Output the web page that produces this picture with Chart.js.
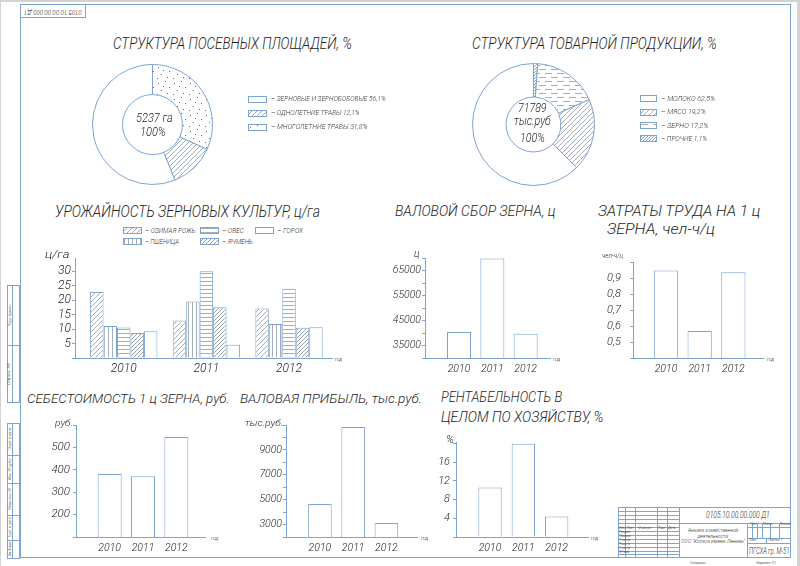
<!DOCTYPE html>
<html lang="ru">
<head>
<meta charset="utf-8">
<title>Анализ хозяйственной деятельности ООО «Колхоз имени Ленина»</title>
<script src="https://cdn.jsdelivr.net/npm/chart.js"></script>
<style>
  html, body { margin: 0; padding: 0; background: #fff; }
  #sheet {
    position: relative; width: 800px; height: 566px; overflow: hidden; background: #fff;
    font-family: Roboto, "Liberation Sans", sans-serif; font-weight: 300;
    font-style: italic; color: #1e1e1e;
  }
  .txt { position: absolute; white-space: nowrap; line-height: 1; transform-origin: 0 50%; }
  .rot { position: absolute; white-space: nowrap; line-height: 1; transform-origin: 50% 50%; }
  .ln { position: absolute; background: #7ea5d2; }
  .bx { position: absolute; box-sizing: border-box; border: 1px solid #7ea5d2; }
</style>
</head>
<body>
<div id="sheet"></div>
<script>
// ---- data read from the sheet ----
const years = [2010, 2011, 2012];

const cropNames = ['ЗЕРНОВЫЕ И ЗЕРНОБОБОВЫЕ', 'ОДНОЛЕТНИЕ ТРАВЫ', 'МНОГОЛЕТНИЕ ТРАВЫ'];
const cropShares = [56.1, 12.1, 31.8];
const cropArea = 5237;

const productNames = ['МОЛОКО', 'МЯСО', 'ЗЕРНО', 'ПРОЧИЕ'];
const productShares = [62.5, 19.2, 17.2, 1.1];
const productTotal = 71789;

const grainNames = ['ОЗИМАЯ РОЖЬ', 'ПШЕНИЦА', 'ОВЕС', 'ЯЧМЕНЬ', 'ГОРОХ'];
const yieldRye = [22.8, 12.9, 17.1];
const yieldWheat = [11.0, 19.5, 11.7];
const yieldOats = [10.5, 29.9, 23.9];
const yieldBarley = [8.6, 17.5, 10.4];
const yieldPeas = [9.2, 4.6, 10.6];
const yieldTicks = [5, 10, 15, 20, 25, 30];

const grossHarvest = [40400, 69800, 39700];
const harvestTicks = [35000, 45000, 55000, 65000];

const laborCost = [0.95, 0.57, 0.94];
const laborTicks = [0.5, 0.6, 0.7, 0.8, 0.9];

const unitCost = [381, 371, 546];
const costTicks = [200, 300, 400, 500];

const grossProfit = [4650, 10830, 3130];
const profitTicks = [3000, 5000, 7000, 9000];

const profitability = [10.6, 19.9, 4.4];
const profitabilityTicks = [4, 8, 12, 16];

// ---- drawing helpers ----
const BLUE = '#7ea5d2';
const HATCH = '#8d98a8';
const INK = '#1e1e1e';
const FONT = 'Roboto, "Liberation Sans", sans-serif';
const sheet = document.getElementById('sheet');
const comma = (v, d) => v.toFixed(d).replace('.', ',');

function txt(str, x, y, size, o = {}) {
  const el = document.createElement('div');
  el.className = 'txt';
  el.textContent = str;
  el.style.fontSize = size + 'px';
  el.style.top = (y - size / 2) + 'px';
  if (o.color) el.style.color = o.color;
  sheet.appendChild(el);
  const natural = el.offsetWidth;
  const sx = o.w ? o.w / natural : (o.sx || 1);
  let left = x;
  if (o.align === 'center') left = x - natural * sx / 2;
  el.style.left = left + 'px';
  el.style.transform = 'scaleX(' + sx + ')';
  return el;
}

function rtxt(str, cx, cy, size, len, angle) {
  const el = document.createElement('div');
  el.className = 'rot';
  el.textContent = str;
  el.style.fontSize = size + 'px';
  sheet.appendChild(el);
  const natural = el.offsetWidth;
  el.style.left = (cx - natural / 2) + 'px';
  el.style.top = (cy - size / 2) + 'px';
  el.style.transform = 'rotate(' + angle + 'deg) scaleX(' + (len / natural) + ')';
}

function hl(x1, x2, y) {
  const d = document.createElement('div');
  d.className = 'ln';
  d.style.cssText = `left:${x1}px;top:${y}px;width:${x2 - x1}px;height:1px`;
  sheet.appendChild(d);
}
function vl(x, y1, y2) {
  const d = document.createElement('div');
  d.className = 'ln';
  d.style.cssText = `left:${x}px;top:${y1}px;width:1px;height:${y2 - y1}px`;
  sheet.appendChild(d);
}
function bx(x, y, w, h) {
  const d = document.createElement('div');
  d.className = 'bx';
  d.style.cssText = `left:${x}px;top:${y}px;width:${w}px;height:${h}px`;
  sheet.appendChild(d);
}

// hatch tiles used by the slices, bars and legend keys
function tile(kind, step, color) {
  const c = document.createElement('canvas');
  const w = kind === 'dash' ? 12 : kind === 'dots' ? 16 : step;
  const h = kind === 'dash' ? 8 : kind === 'dots' ? 16 : step;
  c.width = w;
  c.height = h;
  const g = c.getContext('2d');
  g.fillStyle = '#fff';
  g.fillRect(0, 0, w, h);
  g.strokeStyle = color;
  g.fillStyle = color;
  g.lineWidth = 0.8;
  g.beginPath();
  if (kind === 'slash') {
    g.moveTo(0, h); g.lineTo(w, 0);
    g.moveTo(-1, 1); g.lineTo(1, -1);
    g.moveTo(w - 1, h + 1); g.lineTo(w + 1, h - 1);
  }
  if (kind === 'vert') { g.moveTo(1.5, 0); g.lineTo(1.5, h); }
  if (kind === 'horiz') { g.moveTo(0, 1.5); g.lineTo(w, 1.5); }
  if (kind === 'dash') {
    g.moveTo(1, 2.5); g.lineTo(8, 2.5);
    g.moveTo(7, 6.5); g.lineTo(12, 6.5);
    g.moveTo(0, 6.5); g.lineTo(2, 6.5);
  }
  g.stroke();
  if (kind === 'dots') {
    [[2, 3], [9, 1], [13, 7], [5, 10], [11, 13], [1, 14], [7, 6]].forEach(([x, y]) => g.fillRect(x, y, 1, 1));
  }
  return c;
}
const scratch = document.createElement('canvas').getContext('2d');
const pattern = t => t ? scratch.createPattern(t, 'repeat') : '#fff';

function swatch(x, cy, w, h, t) {
  const c = document.createElement('canvas');
  c.width = w;
  c.height = h;
  c.style.cssText = `position:absolute;left:${x}px;top:${Math.round(cy - h / 2)}px`;
  const g = c.getContext('2d');
  g.fillStyle = pattern(t);
  g.fillRect(0, 0, w, h);
  g.strokeStyle = BLUE;
  g.lineWidth = 1;
  g.strokeRect(0.5, 0.5, w - 1, h - 1);
  sheet.appendChild(c);
}

Chart.defaults.font.family = FONT;
Chart.defaults.font.style = 'italic';
Chart.defaults.font.weight = '300';
Chart.defaults.color = INK;

function ring(cx, cy, r, cutout, values, fills) {
  const size = 2 * r + 1;
  const c = document.createElement('canvas');
  c.width = size;
  c.height = size;
  c.style.cssText = `position:absolute;left:${Math.round(cx - size / 2)}px;top:${Math.round(cy - size / 2)}px`;
  sheet.appendChild(c);
  return new Chart(c, {
    type: 'doughnut',
    data: {
      datasets: [{ data: values, backgroundColor: fills, borderColor: BLUE, borderWidth: 1 }]
    },
    options: {
      responsive: false, animation: false, events: [], cutout,
      layout: { padding: 0 },
      plugins: { legend: { display: false }, tooltip: { enabled: false } }
    }
  });
}

function yearChart(box, xr, datasets, yr) {
  const padTop = 10, padRight = 6, yw = 40, xh = 20;
  const c = document.createElement('canvas');
  c.width = box.right - box.x + yw + padRight;
  c.height = box.bottom - box.top + padTop + xh;
  c.style.cssText = `position:absolute;left:${box.x - yw}px;top:${box.top - padTop}px`;
  sheet.appendChild(c);
  return new Chart(c, {
    type: 'bar',
    data: { datasets },
    options: {
      responsive: false, animation: false, events: [],
      layout: { padding: { top: padTop, right: padRight, bottom: 0, left: 0 } },
      plugins: { legend: { display: false }, tooltip: { enabled: false } },
      scales: {
        x: {
          type: 'linear', min: xr.min, max: xr.max, offset: false,
          grid: { display: false, drawTicks: false },
          border: { color: BLUE, width: 1 },
          afterFit: s => { s.height = xh; },
          ticks: {
            stepSize: 1, includeBounds: false, autoSkip: false, maxRotation: 0,
            padding: xr.pad, font: { size: xr.font },
            callback: v => years.includes(v) ? String(v) : ''
          }
        },
        y: {
          min: yr.min, max: yr.max,
          grid: { drawOnChartArea: false, drawTicks: true, tickLength: 3, color: BLUE, lineWidth: 1 },
          border: { color: BLUE, width: 1 },
          afterFit: s => { s.width = yw; },
          ticks: {
            stepSize: yr.step, includeBounds: false, autoSkip: false,
            padding: yr.pad, font: { size: yr.font },
            callback: v => {
              const t = yr.labels.find(l => Math.abs(l - v) < 1e-6);
              return t === undefined ? '' : (yr.fmt ? yr.fmt(t) : String(t));
            }
          }
        }
      }
    }
  });
}

function plainBars(values, pct) {
  return [{
    data: years.map((y, i) => ({ x: y, y: values[i] })),
    backgroundColor: '#fff', borderColor: BLUE, borderWidth: 1,
    categoryPercentage: pct, barPercentage: 1
  }];
}

// ---- sheet frame, stamps ----
const edge = document.createElement('div');
edge.style.cssText = 'position:absolute;left:0;top:0;width:796px;height:566px;border-top:2px solid #d3d3d3;border-left:1px solid #d3d3d3;border-right:3px solid #d3d3d3;box-sizing:content-box';
sheet.appendChild(edge);
bx(20, 4, 771, 554);
bx(20, 4, 66, 14);
rtxt('0105.10.00.00.000 Д1', 53, 11, 7, 58, 180);

// left margin strip
[[285, 345, 'Перв. примен.'], [345, 402, 'Справ. №'],
 [423, 455, 'Подп. и дата'], [455, 483, 'Инв. № дубл.'], [483, 515, 'Взам. инв. №'],
 [515, 540, 'Подп. и дата'], [540, 558, 'Инв. № подл.']].forEach(([y1, y2, s]) => {
  bx(7, y1, 13, y2 - y1 + 1);
  vl(12, y1, y2);
  rtxt(s, 9.5, (y1 + y2) / 2, 4, Math.min(22, y2 - y1 - 4), -90);
});

// title block
bx(618, 507, 173, 51);
vl(679, 507, 558);
hl(679, 791, 523);
[625, 635, 657, 667].forEach(x => vl(x, 507, 558));
[511, 515, 519, 523, 527, 531, 535, 539, 543, 547, 551, 554].forEach(y => hl(618, 679, y));
txt('Изм. Лист', 619, 529, 3.5, { w: 15 });
txt('№ докум.', 638, 529, 3.5, { w: 14 });
txt('Подп.', 658, 529, 3.5, { w: 8 });
txt('Дата', 668, 529, 3.5, { w: 8 });
['Разраб.', 'Провер.', 'Т.контр.', 'Реценз.', 'Н.контр.', 'Утв.'].forEach((s, i) => {
  txt(s, 619, 533 + i * 4, 3.2, { w: 12 });
});
txt('0105.10.00.00.000 Д1', 706, 515.5, 9, { w: 64 });
txt('Анализ хозяйственной', 713, 530.5, 5, { w: 50, align: 'center' });
txt('деятельности', 713, 536, 5, { w: 31, align: 'center' });
txt('ООО "Колхоз имени Ленина"', 713, 541.5, 5, { w: 64, align: 'center' });
vl(747, 523, 558);
hl(747, 791, 527);
hl(747, 791, 538);
hl(747, 791, 543);
[752, 757, 762, 770, 779].forEach(x => vl(x, 523, 538));
vl(766, 538, 543);
txt('Лит.', 750, 525, 3.5, { w: 8 });
txt('Масса', 763, 525, 3.5, { w: 9 });
txt('Масштаб', 780, 525, 3.5, { w: 10 });
txt('Лист', 749, 540.5, 3.5, { w: 8 });
txt('Листов 1', 768, 540.5, 3.5, { w: 14 });
txt('ПГСХА гр. М-51', 749, 551, 8.5, { w: 40 });
txt('Копировал', 690, 562.5, 4, { w: 16 });
txt('Формат  А1', 756, 562.5, 4, { w: 20 });

// ---- titles ----
txt('СТРУКТУРА ПОСЕВНЫХ ПЛОЩАДЕЙ, %', 113, 43.5, 17, { w: 239 });
txt('СТРУКТУРА ТОВАРНОЙ ПРОДУКЦИИ, %', 472, 43.5, 17, { w: 245 });
txt('УРОЖАЙНОСТЬ ЗЕРНОВЫХ КУЛЬТУР, ц/га', 55, 212, 16.5, { w: 265 });
txt('ВАЛОВОЙ СБОР ЗЕРНА, ц', 395, 212, 14.5, { w: 160 });
txt('ЗАТРАТЫ ТРУДА НА 1 ц', 598, 212, 14.5, { w: 162 });
txt('ЗЕРНА, чел-ч/ц', 607, 230, 14.5, { w: 108 });
txt('СЕБЕСТОИМОСТЬ 1 ц ЗЕРНА, руб.', 27, 398, 13, { w: 203 });
txt('ВАЛОВАЯ ПРИБЫЛЬ, тыс.руб.', 240, 398, 13, { w: 182 });
txt('РЕНТАБЕЛЬНОСТЬ В', 441, 398, 14.5, { w: 121 });
txt('ЦЕЛОМ ПО ХОЗЯЙСТВУ, %', 441, 418, 14.5, { w: 162 });

// ---- sown area structure ----
const cropTiles = [null, tile('slash', 5, HATCH), tile('dots', 0, '#6d6d6d')];
ring(152, 124, 60, '50%', cropShares.slice().reverse(), cropTiles.slice().reverse().map(pattern));
txt(cropArea + ' га', 154, 117, 13, { align: 'center', sx: 0.85 });
txt('100%', 153, 131.5, 13, { align: 'center', sx: 0.85 });
const cropLegendW = [115, 89, 96];
cropNames.forEach((name, i) => {
  const cy = 99 + i * 14;
  swatch(248, cy, 19, 7, cropTiles[i]);
  txt('– ' + name + ' ' + comma(cropShares[i], 1) + '%', 271, cy, 7.5, { w: cropLegendW[i], color: '#333' });
});

// ---- marketable output structure ----
const productTiles = [null, tile('slash', 5, HATCH), tile('dash', 0, HATCH), tile('slash', 3, '#6f92c0')];
ring(533, 124, 61, '45%', productShares.slice().reverse(), productTiles.slice().reverse().map(pattern));
txt(String(productTotal), 532, 108.5, 12.5, { align: 'center', sx: 0.85 });
txt('тыс.руб', 532, 121.5, 12.5, { align: 'center', sx: 0.85 });
txt('100%', 532, 138, 12.5, { align: 'center', sx: 0.85 });
const productLegendW = [54, 45, 47, 46];
productNames.forEach((name, i) => {
  const cy = 98.7 + i * 13.3;
  swatch(640, cy, 17, 7, productTiles[i]);
  txt('– ' + name + ' ' + comma(productShares[i], 1) + '%', 661, cy, 7.5, { w: productLegendW[i], color: '#333' });
});

// ---- grain yield by crop ----
const grainSeries = [yieldRye, yieldWheat, yieldOats, yieldBarley, yieldPeas];
const grainTiles = [tile('slash', 5, HATCH), tile('vert', 4, HATCH), tile('horiz', 4, HATCH), tile('slash', 4, '#7c8696'), null];
const grainLegendX = [123, 123, 200, 200, 255];
const grainLegendY = [230.7, 241.7, 230.7, 241.7, 230.7];
const grainLegendW = [50, 34, 22, 31, 26];
grainNames.forEach((name, i) => {
  swatch(grainLegendX[i], grainLegendY[i], 19, 7, grainTiles[i]);
  txt('– ' + name, grainLegendX[i] + 22, grainLegendY[i], 7.5, { w: grainLegendW[i], color: '#333' });
});
yearChart(
  { x: 75, top: 258, bottom: 358, right: 332 },
  { min: 2009.41, max: 2012.52, font: 12, pad: 4 },
  grainSeries.map((vals, k) => ({
    data: years.map((y, i) => ({ x: y, y: vals[i] })),
    backgroundColor: pattern(grainTiles[k]), borderColor: BLUE, borderWidth: 1,
    categoryPercentage: 0.815, barPercentage: 1
  })),
  { min: 0, max: 34.5, step: 5, labels: yieldTicks, font: 12, pad: 1 }
);
txt('ц/га', 45, 254, 11, { w: 25 });
txt('год', 335, 359, 5);

// ---- gross grain harvest ----
yearChart(
  { x: 425, top: 258, bottom: 358, right: 550 },
  { min: 2008.98, max: 2012.73, font: 10.5, pad: 5 },
  plainBars(grossHarvest, 0.72),
  { min: 30000, max: 70000, step: 5000, labels: harvestTicks, font: 10.5, pad: 1 }
);
txt('ц', 414, 254, 10);
txt('год', 553, 359, 5);

// ---- labour per centner ----
yearChart(
  { x: 633, top: 257, bottom: 358, right: 763 },
  { min: 2009.02, max: 2012.88, font: 10.5, pad: 5 },
  plainBars(laborCost, 0.72),
  { min: 0.4, max: 1.0, step: 0.1, labels: laborTicks, font: 11, pad: 9, fmt: v => comma(v, 1) }
);
txt('чел-ч/ц', 602, 256, 7, { w: 21 });
txt('год', 767, 359, 5);

// ---- cost of 1 centner ----
yearChart(
  { x: 76, top: 425, bottom: 537, right: 205 },
  { min: 2008.99, max: 2012.86, font: 10.5, pad: 5 },
  plainBars(unitCost, 0.72),
  { min: 100, max: 600, step: 100, labels: costTicks, font: 11.5, pad: 3 }
);
txt('руб.', 55, 423, 9, { w: 18 });
txt('год', 211, 538, 5);

// ---- gross profit ----
yearChart(
  { x: 286, top: 425, bottom: 537, right: 417 },
  { min: 2008.98, max: 2012.92, font: 10.5, pad: 5 },
  plainBars(grossProfit, 0.71),
  { min: 2000, max: 11000, step: 1000, labels: profitTicks, font: 10.5, pad: 1 }
);
txt('тыс.руб.', 245, 423, 9, { w: 38 });
txt('год', 421, 538, 5);

// ---- profitability ----
yearChart(
  { x: 456, top: 442, bottom: 537, right: 588 },
  { min: 2008.98, max: 2012.94, font: 10.5, pad: 5 },
  plainBars(profitability, 0.70),
  { min: 0, max: 20.3, step: 4, labels: profitabilityTicks, font: 11, pad: 3 }
);
txt('%', 446, 439, 11);
txt('год', 591, 538, 5);
</script>
</body>
</html>
